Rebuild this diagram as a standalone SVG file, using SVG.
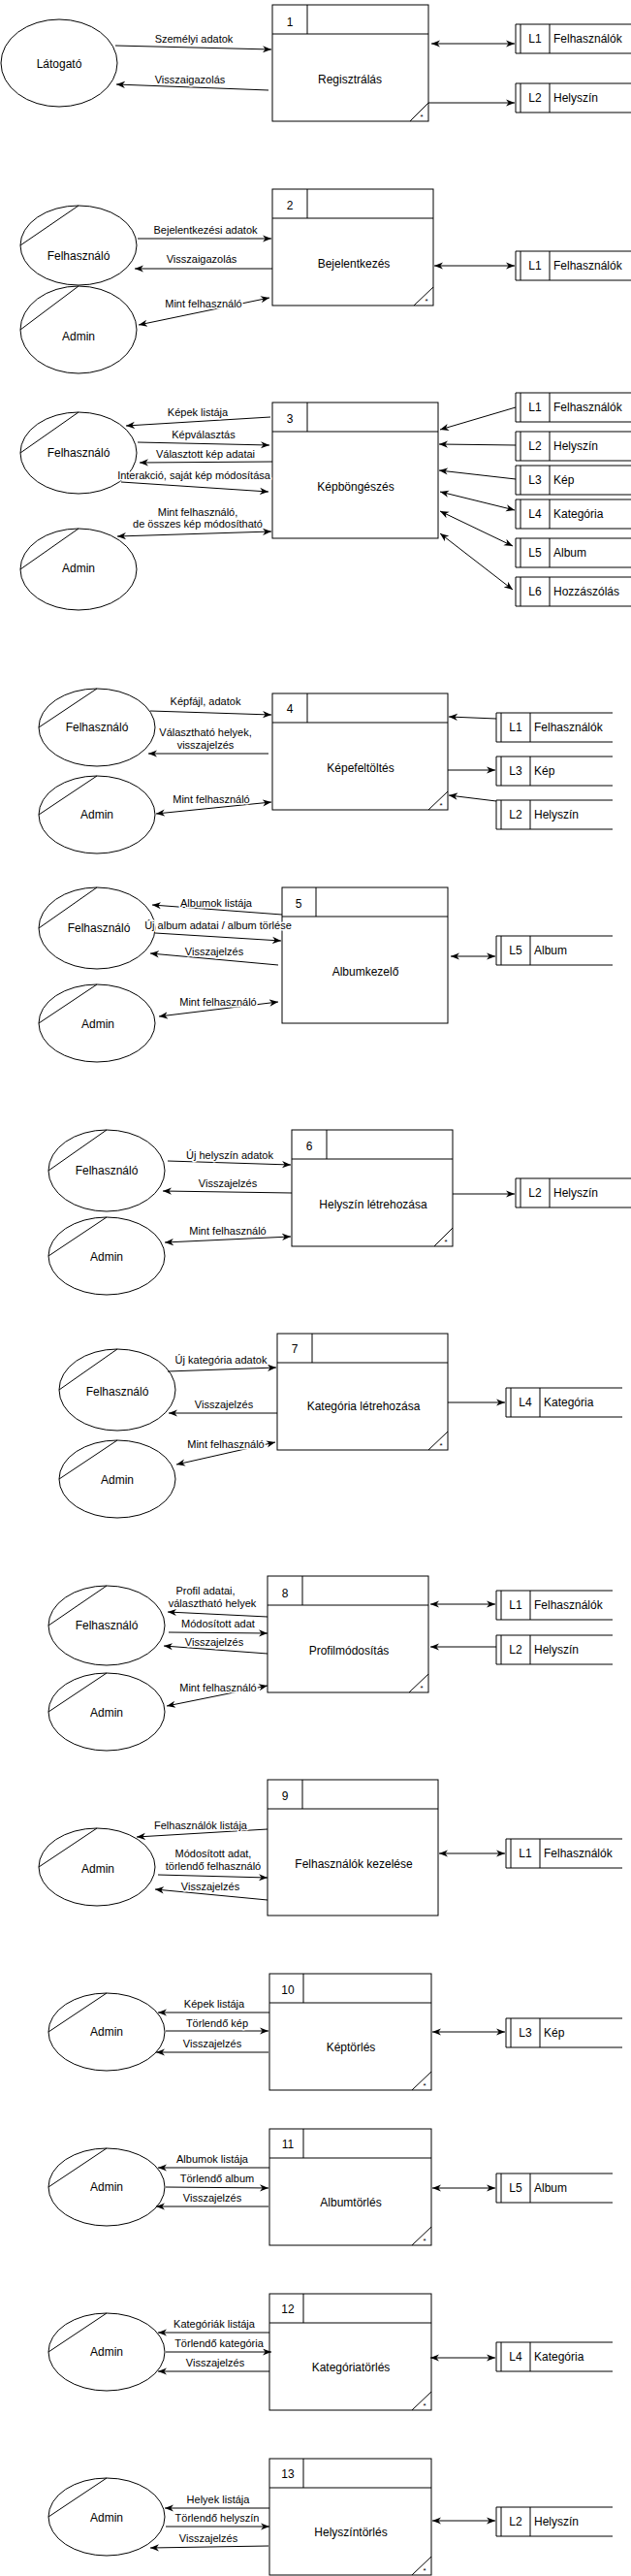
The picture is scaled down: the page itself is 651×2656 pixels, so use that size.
<svg xmlns="http://www.w3.org/2000/svg" width="651" height="2656" viewBox="0 0 651 2656">
<defs>
<marker id="ah" viewBox="0 0 10 10" refX="10" refY="5" markerWidth="9" markerHeight="9" markerUnits="userSpaceOnUse" orient="auto-start-reverse"><path d="M0,1 L10,5 L0,9 L3,5 z" fill="#000"/></marker>
<style>
.box{fill:#fff;stroke:#000;stroke-width:1}
.ln{fill:none;stroke:#000;stroke-width:1}
.t{font-family:"Liberation Sans",Arial,Helvetica,sans-serif;font-size:12px;fill:#000}
.m{text-anchor:middle}
.s{font-family:"Liberation Sans",Arial,sans-serif;font-size:8px;fill:#000;text-anchor:middle}
.lb{font-family:"Liberation Sans",Arial,Helvetica,sans-serif;font-size:11px;fill:#000;text-anchor:middle;paint-order:stroke;stroke:#fff;stroke-width:3px;stroke-linejoin:round}
.a{fill:none;stroke:#000;stroke-width:1;marker-end:url(#ah)}
.b{fill:none;stroke:#000;stroke-width:1;marker-start:url(#ah);marker-end:url(#ah)}
</style>
</defs>
<rect width="651" height="2656" fill="#fff"/>

<!-- ===== Section 1 ===== -->
<g id="s1-latogato"><ellipse class="box" cx="61" cy="65" rx="60" ry="45"/><text class="t m" x="61" y="70">Látogató</text></g>
<g id="s1-p1"><rect class="box" x="281" y="5" width="161" height="120"/><path class="ln" d="M281,35 H442 M317,5 V35 M423,125 L442,106"/><text class="t m" x="299" y="27">1</text><text class="t m" x="361" y="86">Regisztrálás</text><text class="s" x="435" y="123">*</text></g>
<g id="s1-L1"><path class="ln" d="M652,25 H532 V55 H652 M537,25 V55 M567,25 V55"/><text class="t m" x="552" y="44">L1</text><text class="t" x="571" y="44">Felhasználók</text></g>
<g id="s1-L2"><path class="ln" d="M652,86 H532 V116 H652 M537,86 V116 M567,86 V116"/><text class="t m" x="552" y="105">L2</text><text class="t" x="571" y="105">Helyszín</text></g>

<!-- ===== Section 2 ===== -->
<g id="s2-felh"><ellipse class="box" cx="81" cy="253" rx="60" ry="41"/><path class="ln" d="M21,253 L81,212"/><text class="t m" x="81" y="268">Felhasználó</text></g>
<g id="s2-admin"><ellipse class="box" cx="81" cy="340" rx="60" ry="45"/><path class="ln" d="M21,340 L81,295"/><text class="t m" x="81" y="351">Admin</text></g>
<g id="s2-p2"><rect class="box" x="281" y="195" width="166" height="120"/><path class="ln" d="M281,225 H447 M317,195 V225 M427,315 L447,296"/><text class="t m" x="299" y="216">2</text><text class="t m" x="365" y="276">Bejelentkezés</text><text class="s" x="440" y="313">*</text></g>
<g id="s2-L1"><path class="ln" d="M652,259 H532 V289 H652 M537,259 V289 M567,259 V289"/><text class="t m" x="552" y="278">L1</text><text class="t" x="571" y="278">Felhasználók</text></g>

<!-- ===== Section 3 ===== -->
<g id="s3-felh"><ellipse class="box" cx="81" cy="467" rx="60" ry="42"/><path class="ln" d="M21,467 L81,425"/><text class="t m" x="81" y="471">Felhasználó</text></g>
<g id="s3-admin"><ellipse class="box" cx="81" cy="587" rx="60" ry="42"/><path class="ln" d="M21,587 L81,545"/><text class="t m" x="81" y="590">Admin</text></g>
<g id="s3-p3"><rect class="box" x="281" y="415" width="171" height="140"/><path class="ln" d="M281,445 H452 M317,415 V445"/><text class="t m" x="299" y="436">3</text><text class="t m" x="367" y="506">Képböngészés</text></g>
<g id="s3-L1"><path class="ln" d="M652,405 H532 V435 H652 M537,405 V435 M567,405 V435"/><text class="t m" x="552" y="424">L1</text><text class="t" x="571" y="424">Felhasználók</text></g>
<g id="s3-L2"><path class="ln" d="M652,445 H532 V475 H652 M537,445 V475 M567,445 V475"/><text class="t m" x="552" y="464">L2</text><text class="t" x="571" y="464">Helyszín</text></g>
<g id="s3-L3"><path class="ln" d="M652,480 H532 V510 H652 M537,480 V510 M567,480 V510"/><text class="t m" x="552" y="499">L3</text><text class="t" x="571" y="499">Kép</text></g>
<g id="s3-L4"><path class="ln" d="M652,515 H532 V545 H652 M537,515 V545 M567,515 V545"/><text class="t m" x="552" y="534">L4</text><text class="t" x="571" y="534">Kategória</text></g>
<g id="s3-L5"><path class="ln" d="M652,555 H532 V585 H652 M537,555 V585 M567,555 V585"/><text class="t m" x="552" y="574">L5</text><text class="t" x="571" y="574">Album</text></g>
<g id="s3-L6"><path class="ln" d="M652,595 H532 V625 H652 M537,595 V625 M567,595 V625"/><text class="t m" x="552" y="614">L6</text><text class="t" x="571" y="614">Hozzászólás</text></g>

<!-- ===== Section 4 ===== -->
<g id="s4-felh"><ellipse class="box" cx="100" cy="750" rx="60" ry="40"/><path class="ln" d="M40,750 L100,710"/><text class="t m" x="100" y="754">Felhasználó</text></g>
<g id="s4-admin"><ellipse class="box" cx="100" cy="840" rx="60" ry="40"/><path class="ln" d="M40,840 L100,800"/><text class="t m" x="100" y="844">Admin</text></g>
<g id="s4-p4"><rect class="box" x="281" y="715" width="181" height="120"/><path class="ln" d="M281,745 H462 M317,715 V745 M442,835 L462,816"/><text class="t m" x="299" y="735">4</text><text class="t m" x="372" y="796">Képefeltöltés</text><text class="s" x="455" y="833">*</text></g>
<g id="s4-L1"><path class="ln" d="M632,735 H512 V765 H632 M517,735 V765 M547,735 V765"/><text class="t m" x="532" y="754">L1</text><text class="t" x="551" y="754">Felhasználók</text></g>
<g id="s4-L3"><path class="ln" d="M632,780 H512 V810 H632 M517,780 V810 M547,780 V810"/><text class="t m" x="532" y="799">L3</text><text class="t" x="551" y="799">Kép</text></g>
<g id="s4-L2"><path class="ln" d="M632,825 H512 V855 H632 M517,825 V855 M547,825 V855"/><text class="t m" x="532" y="844">L2</text><text class="t" x="551" y="844">Helyszín</text></g>

<!-- ===== Section 5 ===== -->
<g id="s5-felh"><ellipse class="box" cx="100" cy="957" rx="60" ry="42"/><path class="ln" d="M40,957 L100,915"/><text class="t m" x="102" y="961">Felhasználó</text></g>
<g id="s5-admin"><ellipse class="box" cx="100" cy="1055" rx="60" ry="40"/><path class="ln" d="M40,1055 L100,1015"/><text class="t m" x="101" y="1060">Admin</text></g>
<g id="s5-p5"><rect class="box" x="291" y="915" width="171" height="140"/><path class="ln" d="M291,945 H462 M326,915 V945"/><text class="t m" x="308" y="936">5</text><text class="t m" x="377" y="1006">Albumkezelő</text></g>
<g id="s5-L5"><path class="ln" d="M632,965 H512 V995 H632 M517,965 V995 M547,965 V995"/><text class="t m" x="532" y="984">L5</text><text class="t" x="551" y="984">Album</text></g>

<!-- ===== Section 6 ===== -->
<g id="s6-felh"><ellipse class="box" cx="110" cy="1207" rx="60" ry="42"/><path class="ln" d="M50,1207 L110,1165"/><text class="t m" x="110" y="1211">Felhasználó</text></g>
<g id="s6-admin"><ellipse class="box" cx="110" cy="1295" rx="60" ry="40"/><path class="ln" d="M50,1295 L110,1255"/><text class="t m" x="110" y="1300">Admin</text></g>
<g id="s6-p6"><rect class="box" x="301" y="1165" width="166" height="120"/><path class="ln" d="M301,1195 H467 M337,1165 V1195 M448,1285 L467,1266"/><text class="t m" x="319" y="1186">6</text><text class="t m" x="385" y="1246">Helyszín létrehozása</text><text class="s" x="460" y="1283">*</text></g>
<g id="s6-L2"><path class="ln" d="M652,1215 H532 V1245 H652 M537,1215 V1245 M567,1215 V1245"/><text class="t m" x="552" y="1234">L2</text><text class="t" x="571" y="1234">Helyszín</text></g>

<!-- ===== Section 7 ===== -->
<g id="s7-felh"><ellipse class="box" cx="121" cy="1433" rx="60" ry="42"/><path class="ln" d="M61,1433 L121,1391"/><text class="t m" x="121" y="1439">Felhasználó</text></g>
<g id="s7-admin"><ellipse class="box" cx="121" cy="1525" rx="60" ry="40"/><path class="ln" d="M61,1525 L121,1485"/><text class="t m" x="121" y="1530">Admin</text></g>
<g id="s7-p7"><rect class="box" x="286" y="1375" width="176" height="120"/><path class="ln" d="M286,1405 H462 M322,1375 V1405 M442,1495 L462,1476"/><text class="t m" x="304" y="1395">7</text><text class="t m" x="375" y="1454">Kategória létrehozása</text><text class="s" x="455" y="1493">*</text></g>
<g id="s7-L4"><path class="ln" d="M642,1431 H522 V1461 H642 M527,1431 V1461 M557,1431 V1461"/><text class="t m" x="542" y="1450">L4</text><text class="t" x="561" y="1450">Kategória</text></g>

<!-- ===== Section 8 ===== -->
<g id="s8-felh"><ellipse class="box" cx="110" cy="1676" rx="60" ry="41"/><path class="ln" d="M50,1676 L110,1635"/><text class="t m" x="110" y="1680">Felhasználó</text></g>
<g id="s8-admin"><ellipse class="box" cx="110" cy="1765" rx="60" ry="40"/><path class="ln" d="M50,1765 L110,1725"/><text class="t m" x="110" y="1770">Admin</text></g>
<g id="s8-p8"><rect class="box" x="276" y="1625" width="166" height="120"/><path class="ln" d="M276,1655 H442 M312,1625 V1655 M422,1745 L442,1726"/><text class="t m" x="294" y="1647">8</text><text class="t m" x="360" y="1706">Profilmódosítás</text><text class="s" x="435" y="1743">*</text></g>
<g id="s8-L1"><path class="ln" d="M632,1640 H512 V1670 H632 M517,1640 V1670 M547,1640 V1670"/><text class="t m" x="532" y="1659">L1</text><text class="t" x="551" y="1659">Felhasználók</text></g>
<g id="s8-L2"><path class="ln" d="M632,1686 H512 V1716 H632 M517,1686 V1716 M547,1686 V1716"/><text class="t m" x="532" y="1705">L2</text><text class="t" x="551" y="1705">Helyszín</text></g>

<!-- ===== Section 9 ===== -->
<g id="s9-admin"><ellipse class="box" cx="100" cy="1925" rx="60" ry="40"/><path class="ln" d="M40,1925 L100,1885"/><text class="t m" x="101" y="1931">Admin</text></g>
<g id="s9-p9"><rect class="box" x="276" y="1835" width="176" height="140"/><path class="ln" d="M276,1865 H452 M312,1835 V1865"/><text class="t m" x="294" y="1856">9</text><text class="t m" x="365" y="1926">Felhasználók kezelése</text></g>
<g id="s9-L1"><path class="ln" d="M642,1896 H522 V1926 H642 M527,1896 V1926 M557,1896 V1926"/><text class="t m" x="542" y="1915">L1</text><text class="t" x="561" y="1915">Felhasználók</text></g>

<!-- ===== Section 10 ===== -->
<g id="s10-admin"><ellipse class="box" cx="110" cy="2095" rx="60" ry="40"/><path class="ln" d="M50,2095 L110,2055"/><text class="t m" x="110" y="2099">Admin</text></g>
<g id="s10-p10"><rect class="box" x="278" y="2035" width="167" height="120"/><path class="ln" d="M278,2065 H445 M313,2035 V2065 M425,2155 L445,2136"/><text class="t m" x="297" y="2056">10</text><text class="t m" x="362" y="2115">Képtörlés</text><text class="s" x="438" y="2153">*</text></g>
<g id="s10-L3"><path class="ln" d="M642,2081 H522 V2111 H642 M527,2081 V2111 M557,2081 V2111"/><text class="t m" x="542" y="2100">L3</text><text class="t" x="561" y="2100">Kép</text></g>

<!-- ===== Section 11 ===== -->
<g id="s11-admin"><ellipse class="box" cx="110" cy="2255" rx="60" ry="40"/><path class="ln" d="M50,2255 L110,2215"/><text class="t m" x="110" y="2259">Admin</text></g>
<g id="s11-p11"><rect class="box" x="278" y="2195" width="167" height="120"/><path class="ln" d="M278,2225 H445 M313,2195 V2225 M425,2315 L445,2296"/><text class="t m" x="297" y="2215">11</text><text class="t m" x="362" y="2275">Albumtörlés</text><text class="s" x="438" y="2313">*</text></g>
<g id="s11-L5"><path class="ln" d="M632,2241 H512 V2271 H632 M517,2241 V2271 M547,2241 V2271"/><text class="t m" x="532" y="2260">L5</text><text class="t" x="551" y="2260">Album</text></g>

<!-- ===== Section 12 ===== -->
<g id="s12-admin"><ellipse class="box" cx="110" cy="2425" rx="60" ry="40"/><path class="ln" d="M50,2425 L110,2385"/><text class="t m" x="110" y="2429">Admin</text></g>
<g id="s12-p12"><rect class="box" x="278" y="2365" width="167" height="120"/><path class="ln" d="M278,2395 H445 M313,2365 V2395 M425,2485 L445,2466"/><text class="t m" x="297" y="2385">12</text><text class="t m" x="362" y="2445">Kategóriatörlés</text><text class="s" x="438" y="2483">*</text></g>
<g id="s12-L4"><path class="ln" d="M632,2415 H512 V2445 H632 M517,2415 V2445 M547,2415 V2445"/><text class="t m" x="532" y="2434">L4</text><text class="t" x="551" y="2434">Kategória</text></g>

<!-- ===== Section 13 ===== -->
<g id="s13-admin"><ellipse class="box" cx="110" cy="2595" rx="60" ry="40"/><path class="ln" d="M50,2595 L110,2555"/><text class="t m" x="110" y="2600">Admin</text></g>
<g id="s13-p13"><rect class="box" x="278" y="2535" width="167" height="120"/><path class="ln" d="M278,2565 H445 M313,2535 V2565 M425,2655 L445,2636"/><text class="t m" x="297" y="2555">13</text><text class="t m" x="362" y="2615">Helyszíntörlés</text><text class="s" x="438" y="2653">*</text></g>
<g id="s13-L2"><path class="ln" d="M632,2585 H512 V2615 H632 M517,2585 V2615 M547,2585 V2615"/><text class="t m" x="532" y="2604">L2</text><text class="t" x="551" y="2604">Helyszín</text></g>

<!-- ===== Connectors ===== -->
<g id="connectors">
<!-- 1 -->
<line class="a" x1="119" y1="47" x2="280" y2="51"/><text class="lb" x="200" y="44">Személyi adatok</text>
<line class="a" x1="277" y1="93" x2="120" y2="87"/><text class="lb" x="196" y="86">Visszaigazolás</text>
<line class="b" x1="445" y1="45" x2="531" y2="45"/>
<line class="a" x1="442" y1="106" x2="531" y2="106"/>
<!-- 2 -->
<line class="a" x1="142" y1="246" x2="280" y2="246"/><text class="lb" x="212" y="241">Bejelentkezési adatok</text>
<line class="a" x1="281" y1="277" x2="139" y2="277"/><text class="lb" x="208" y="271">Visszaigazolás</text>
<line class="b" x1="143" y1="335" x2="278" y2="307"/><text class="lb" x="210" y="317">Mint felhasználó</text>
<line class="b" x1="448" y1="274" x2="531" y2="274"/>
<!-- 3 -->
<line class="a" x1="279" y1="430" x2="130" y2="439"/><text class="lb" x="204" y="429">Képek listája</text>
<line class="a" x1="142" y1="456" x2="278" y2="459"/><text class="lb" x="210" y="452">Képválasztás</text>
<line class="a" x1="281" y1="476" x2="144" y2="477"/><text class="lb" x="212" y="472">Választott kép adatai</text>
<line class="a" x1="125" y1="497" x2="277" y2="507"/><text class="lb" x="200" y="494">Interakció, saját kép módosítása</text>
<line class="b" x1="121" y1="553" x2="280" y2="548"/><text class="lb" x="204" y="532">Mint felhasználó,</text><text class="lb" x="204" y="544">de összes kép módosítható</text>
<line class="a" x1="532" y1="420" x2="454" y2="443"/>
<line class="a" x1="532" y1="459" x2="453" y2="458"/>
<line class="a" x1="532" y1="494" x2="453" y2="485"/>
<line class="b" x1="454" y1="507" x2="531" y2="526"/>
<line class="b" x1="454" y1="527" x2="529" y2="563"/>
<line class="b" x1="454" y1="550" x2="529" y2="608"/>
<!-- 4 -->
<line class="a" x1="155" y1="733" x2="280" y2="737"/><text class="lb" x="212" y="727">Képfájl, adatok</text>
<line class="a" x1="277" y1="777" x2="153" y2="777"/><text class="lb" x="212" y="759">Választható helyek,</text><text class="lb" x="212" y="772">visszajelzés</text>
<line class="b" x1="161" y1="839" x2="280" y2="827"/><text class="lb" x="218" y="828">Mint felhasználó</text>
<line class="a" x1="512" y1="741" x2="463" y2="739"/>
<line class="a" x1="462" y1="794" x2="511" y2="794"/>
<line class="a" x1="512" y1="826" x2="463" y2="820"/>
<!-- 5 -->
<line class="a" x1="291" y1="943" x2="157" y2="933"/><text class="lb" x="223" y="935">Albumok listája</text>
<line class="a" x1="160" y1="962" x2="290" y2="970"/><text class="lb" x="225" y="958">Új album adatai / album törlése</text>
<line class="a" x1="287" y1="995" x2="155" y2="983"/><text class="lb" x="221" y="985">Visszajelzés</text>
<line class="b" x1="164" y1="1048" x2="287" y2="1033"/><text class="lb" x="225" y="1037">Mint felhasználó</text>
<line class="b" x1="465" y1="986" x2="511" y2="986"/>
<!-- 6 -->
<line class="a" x1="173" y1="1197" x2="300" y2="1201"/><text class="lb" x="237" y="1195">Új helyszín adatok</text>
<line class="a" x1="301" y1="1230" x2="168" y2="1228"/><text class="lb" x="235" y="1224">Visszajelzés</text>
<line class="b" x1="170" y1="1281" x2="300" y2="1275"/><text class="lb" x="235" y="1273">Mint felhasználó</text>
<line class="a" x1="467" y1="1231" x2="531" y2="1231"/>
<!-- 7 -->
<line class="a" x1="173" y1="1414" x2="285" y2="1410"/><text class="lb" x="228" y="1406">Új kategória adatok</text>
<line class="a" x1="286" y1="1457" x2="174" y2="1457"/><text class="lb" x="231" y="1452">Visszajelzés</text>
<line class="b" x1="182" y1="1510" x2="284" y2="1487"/><text class="lb" x="233" y="1493">Mint felhasználó</text>
<line class="a" x1="462" y1="1446" x2="521" y2="1446"/>
<!-- 8 -->
<line class="a" x1="276" y1="1667" x2="173" y2="1662"/><text class="lb" x="212" y="1644">Profil adatai,</text><text class="lb" x="219" y="1657">választható helyek</text>
<line class="a" x1="174" y1="1683" x2="276" y2="1684"/><text class="lb" x="225" y="1678">Módosított adat</text>
<line class="a" x1="276" y1="1705" x2="169" y2="1697"/><text class="lb" x="221" y="1697">Visszajelzés</text>
<line class="b" x1="172" y1="1759" x2="276" y2="1738"/><text class="lb" x="225" y="1744">Mint felhasználó</text>
<line class="b" x1="444" y1="1654" x2="511" y2="1654"/>
<line class="a" x1="512" y1="1698" x2="444" y2="1698"/>
<!-- 9 -->
<line class="a" x1="276" y1="1886" x2="141" y2="1894"/><text class="lb" x="207" y="1886">Felhasználók listája</text>
<line class="a" x1="163" y1="1933" x2="276" y2="1936"/><text class="lb" x="220" y="1915">Módosított adat,</text><text class="lb" x="220" y="1928">törlendő felhasználó</text>
<line class="a" x1="276" y1="1959" x2="160" y2="1948"/><text class="lb" x="217" y="1949">Visszajelzés</text>
<line class="b" x1="453" y1="1911" x2="521" y2="1911"/>
<!-- 10 -->
<line class="a" x1="278" y1="2075" x2="163" y2="2075"/><text class="lb" x="221" y="2070">Képek listája</text>
<line class="a" x1="171" y1="2094" x2="277" y2="2094"/><text class="lb" x="224" y="2090">Törlendő kép</text>
<line class="a" x1="277" y1="2116" x2="161" y2="2116"/><text class="lb" x="219" y="2111">Visszajelzés</text>
<line class="b" x1="446" y1="2095" x2="521" y2="2095"/>
<!-- 11 -->
<line class="a" x1="278" y1="2235" x2="163" y2="2235"/><text class="lb" x="219" y="2230">Albumok listája</text>
<line class="a" x1="171" y1="2255" x2="277" y2="2256"/><text class="lb" x="224" y="2250">Törlendő album</text>
<line class="a" x1="277" y1="2275" x2="161" y2="2275"/><text class="lb" x="219" y="2270">Visszajelzés</text>
<line class="b" x1="446" y1="2256" x2="511" y2="2256"/>
<!-- 12 -->
<line class="a" x1="278" y1="2405" x2="163" y2="2405"/><text class="lb" x="221" y="2400">Kategóriák listája</text>
<line class="a" x1="171" y1="2425" x2="280" y2="2425"/><text class="lb" x="226" y="2420">Törlendő kategória</text>
<line class="a" x1="278" y1="2445" x2="163" y2="2445"/><text class="lb" x="222" y="2440">Visszajelzés</text>
<line class="b" x1="444" y1="2431" x2="511" y2="2431"/>
<!-- 13 -->
<line class="a" x1="278" y1="2586" x2="170" y2="2586"/><text class="lb" x="225" y="2581">Helyek listája</text>
<line class="a" x1="171" y1="2605" x2="278" y2="2605"/><text class="lb" x="224" y="2600">Törlendő helyszín</text>
<line class="a" x1="277" y1="2625" x2="155" y2="2627"/><text class="lb" x="215" y="2621">Visszajelzés</text>
<line class="b" x1="446" y1="2599" x2="511" y2="2599"/>
</g>
</svg>
